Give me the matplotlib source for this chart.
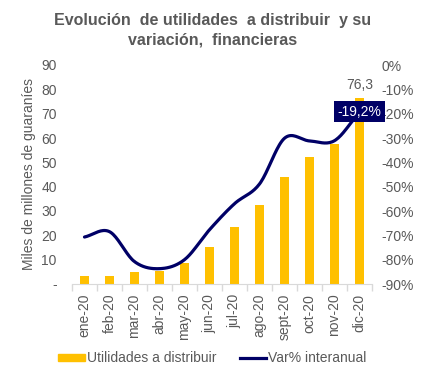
import matplotlib
matplotlib.use("Agg")
import matplotlib.pyplot as plt
import numpy as np
from matplotlib.patches import Patch
from matplotlib.lines import Line2D

plt.rcParams['font.family'] = ['Liberation Sans', 'DejaVu Sans']

meses = ["ene-20", "feb-20", "mar-20", "abr-20", "may-20", "jun-20",
         "jul-20", "ago-20", "sept-20", "oct-20", "nov-20", "dic-20"]
utilidades = [3.3, 3.3, 4.9, 5.5, 8.6, 15.1, 23.3, 32.6, 43.8, 52.3, 57.4, 76.3]
var_interanual = [-70.7, -68.5, -80.8, -83.7, -80.0, -67.7, -57.0, -48.9, -30.1, -31.2, -31.1, -19.2]

gris = "#595959"
amarillo = "#FFC000"
azul = "#000066"


def suavizar(x, y, n=20):
    # catmull-rom, como la linea suavizada de excel
    x = np.asarray(x, float)
    y = np.asarray(y, float)
    px = np.concatenate([[2 * x[0] - x[1]], x, [2 * x[-1] - x[-2]]])
    py = np.concatenate([[2 * y[0] - y[1]], y, [2 * y[-1] - y[-2]]])
    xs, ys = [], []
    for i in range(1, len(px) - 2):
        t = np.linspace(0, 1, n, endpoint=False)
        for p, out in ((px, xs), (py, ys)):
            p0, p1, p2, p3 = p[i - 1], p[i], p[i + 1], p[i + 2]
            out.extend(0.5 * (2 * p1 + (-p0 + p2) * t
                              + (2 * p0 - 5 * p1 + 4 * p2 - p3) * t ** 2
                              + (-p0 + 3 * p1 - 3 * p2 + p3) * t ** 3))
    xs.append(x[-1])
    ys.append(y[-1])
    return np.array(xs), np.array(ys)


fig = plt.figure(figsize=(4.25, 3.79), dpi=100)
ax = fig.add_axes([72 / 425, 1 - 284 / 379, 300 / 425, 219 / 379])
ax2 = ax.twinx()

x = np.arange(len(meses))
ax.bar(x, utilidades, width=0.33, color=amarillo, zorder=2)
ax.set_ylim(0, 90)
ax.set_xlim(-0.5, len(meses) - 0.5)
ax.set_yticks(np.arange(0, 91, 10))
ax.set_yticklabels(["-"] + [str(v) for v in range(10, 91, 10)])
ax.set_xticks(x)
ax.set_xticklabels(meses, rotation=90)
ax.set_xticks(np.arange(-0.5, len(meses), 1), minor=True)
ax.tick_params(axis='x', which='major', length=0, pad=7, labelsize=10, labelcolor=gris)
ax.tick_params(axis='x', which='minor', length=5, color="#D9D9D9", width=1)
ax.tick_params(axis='y', length=0, labelsize=10, labelcolor=gris, pad=11)
ax.set_ylabel("Miles de millones de guaraníes", fontsize=10, color=gris, labelpad=4)
ax.text(x[-1], utilidades[-1] + 2.5, "76,3", ha='center', va='bottom', fontsize=10, color=gris)

lx, ly = suavizar(x, var_interanual)
ax2.plot(lx, ly, color=azul, lw=2.3, solid_capstyle='round', zorder=3)
ax2.set_ylim(-90, 0)
ax2.set_yticks(np.arange(-90, 1, 10))
ax2.set_yticklabels([f"{v}%" for v in range(-90, 1, 10)])
ax2.tick_params(axis='y', length=0, labelsize=10, labelcolor=gris, pad=7)
ax2.text(x[-1], var_interanual[-1], "-19,2%", ha='center', va='center', fontsize=10,
         color='white', zorder=5,
         bbox=dict(boxstyle='square,pad=0.25', fc=azul, ec='none'))

for a in (ax, ax2):
    for s in a.spines.values():
        s.set_visible(False)
ax.spines['bottom'].set_visible(True)
ax.spines['bottom'].set_color("#D9D9D9")

fig.text(0.5, 1 - 30 / 379, "Evolución  de utilidades  a distribuir  y su\nvariación,  financieras",
         ha='center', va='center', fontsize=11.5, fontweight='bold', color=gris, linespacing=1.4)

handles = [Patch(color=amarillo, label="Utilidades a distribuir"),
           Line2D([], [], color=azul, lw=2.3, label="Var% interanual")]
fig.legend(handles=handles, loc='center', bbox_to_anchor=(0.5, 1 - 358 / 379), ncol=2,
           frameon=False, fontsize=10, labelcolor=gris, handlelength=1.9, handleheight=0.4,
           handletextpad=0.15, columnspacing=1.7)

fig.savefig("out.png", dpi=100)
